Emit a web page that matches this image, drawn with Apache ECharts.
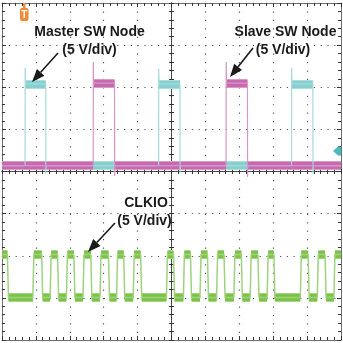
<!DOCTYPE html>
<html>
<head>
<meta charset="utf-8">
<script src="https://cdn.jsdelivr.net/npm/echarts@6/dist/echarts.min.js"></script>
<style>
  html, body { margin: 0; padding: 0; background: #ffffff; }
  #scope { width: 343px; height: 343px; }
</style>
</head>
<body>
<div id="scope"></div>
<script>
// Horizontal unit: screen divisions (10 across). Vertical unit: divisions (±4), 5 V/div.
const masterRise   = [0.68, 4.62, 8.54];
const masterFall   = [1.29, 5.25, 9.17];
const masterPeak   = [2.46, 2.44, 2.46];
const masterDip    = [-0.05, -0.04, -0.05];
const masterLevels = [0.14, 2.08];

const slaveRise   = [2.69, 6.61];
const slaveFall   = [3.32, 7.24];
const slavePeak   = [2.60, 2.60];
const slaveDip    = [-0.10, -0.13];
const slaveLevels = [0.14, 2.10];

const clkRise = [0.91, 1.42, 1.90, 2.39, 2.89, 3.38, 3.87,
                 4.85, 5.35, 5.84, 6.33, 6.84, 7.32, 7.82,
                 8.80, 9.30, 9.79];
const clkFall = [0.16, 1.17, 1.64, 2.12, 2.62, 3.14, 3.59, 4.09,
                 5.06, 5.56, 6.06, 6.55, 7.06, 7.55, 8.02,
                 9.03, 9.53];
const clkLevels = [-2.99, -1.97];

const xDivs = [0, 10];
const yDivs = [-4, 4];

// Turn edge times into a thin transition path plus flat level segments.
function buildTrace(rises, falls, levels, peaks, dips, edge) {
  const events = rises.map((t, i) => ({ t, up: true, over: peaks ? peaks[i] : null }))
    .concat(falls.map((t, i) => ({ t, up: false, over: dips ? dips[i] : null })))
    .sort((a, b) => a.t - b.t);
  let state = events.length && !events[0].up ? 1 : 0;
  const path = [[xDivs[0], levels[state]]];
  const segs = [];
  let from = xDivs[0];
  events.forEach(e => {
    segs.push([[from, levels[state]], [e.t, levels[state]]]);
    path.push([e.t, levels[state]]);
    if (e.over != null) path.push([e.t + edge * 0.3, e.over]);
    state = e.up ? 1 : 0;
    from = e.t + edge;
    path.push([from, levels[state]]);
  });
  segs.push([[from, levels[state]], [xDivs[1], levels[state]]]);
  path.push([xDivs[1], levels[state]]);
  return { path, segs };
}

const master = buildTrace(masterRise, masterFall, masterLevels, masterPeak, masterDip, 0.012);
const slave  = buildTrace(slaveRise, slaveFall, slaveLevels, slavePeak, slaveDip, 0.012);
const clk    = buildTrace(clkRise, clkFall, clkLevels, null, null, 0.03);

function band(segs, color, width) {
  return {
    type: 'lines', coordinateSystem: 'cartesian2d', xAxisIndex: 0, yAxisIndex: 0,
    silent: true, polyline: false,
    lineStyle: { color, width, opacity: 1, cap: 'butt', curveness: 0 },
    data: segs.map(c => ({ coords: c }))
  };
}
function edges(path, color, width) {
  return {
    type: 'line', xAxisIndex: 0, yAxisIndex: 0, data: path,
    symbol: 'none', showSymbol: false, silent: true,
    lineStyle: { color, width }
  };
}

const tickColor = '#333';
function frameAxis(gridIndex, position, range, dash) {
  return {
    type: 'value', gridIndex, position, min: range[0], max: range[1], interval: 1,
    axisLine: { show: true, onZero: false, lineStyle: { color: '#6f6f6f', width: 1 } },
    axisTick: { show: true, inside: true, length: 4, lineStyle: { color: tickColor } },
    minorTick: { show: true, splitNumber: 5, length: 3, lineStyle: { color: tickColor } },
    axisLabel: { show: false },
    splitLine: dash ? { show: true, lineStyle: { color: '#555', width: 1.2, type: dash } } : { show: false }
  };
}
function crossAxis(gridIndex, position, range) {
  return {
    type: 'value', gridIndex, position, min: range[0], max: range[1], interval: 1,
    axisLine: { show: true, onZero: true, lineStyle: { color: '#3a3a3a', width: 1, type: [1, 1] } },
    axisTick: { show: true, inside: true, length: 2.5, lineStyle: { color: tickColor } },
    minorTick: { show: true, splitNumber: 5, length: 2.5, lineStyle: { color: tickColor } },
    axisLabel: { show: false },
    splitLine: { show: false }
  };
}

const gridBox = { left: 2, right: 2, top: 3, bottom: 3 };

// Annotation arrow: shaft plus filled head, in pixels.
function arrow(x0, y0, x1, y1) {
  const dx = x1 - x0, dy = y1 - y0, len = Math.hypot(dx, dy);
  const ux = dx / len, uy = dy / len, head = 13, half = 5;
  const bx = x1 - ux * head, by = y1 - uy * head;
  return [
    { type: 'line', z: 100, shape: { x1: x0, y1: y0, x2: bx, y2: by },
      style: { stroke: '#1a1a1a', lineWidth: 1.6 } },
    { type: 'polygon', z: 100,
      shape: { points: [[x1, y1], [bx - uy * half, by + ux * half], [bx + uy * half, by - ux * half]] },
      style: { fill: '#1a1a1a' } }
  ];
}
function label(text, x, y) {
  return { type: 'text', z: 100, style: {
    text, x, y, align: 'center', verticalAlign: 'middle',
    font: 'bold 14px "Liberation Sans", Arial, sans-serif', fill: '#1a1a1a' } };
}

const chart = echarts.init(document.getElementById('scope'), null, { renderer: 'canvas' });
chart.setOption({
  animation: false,
  backgroundColor: '#ffffff',
  grid: [gridBox, gridBox, gridBox].map(g => Object.assign({ containLabel: false }, g)),
  xAxis: [
    frameAxis(0, 'bottom', xDivs, [1.2, 7.23]),
    frameAxis(0, 'top', xDivs, null),
    crossAxis(1, 'bottom', [-5, 5]),
    crossAxis(2, 'top', [-5, 5])
  ],
  yAxis: [
    frameAxis(0, 'left', yDivs, [1.2, 5.58]),
    frameAxis(0, 'right', yDivs, null),
    crossAxis(1, 'left', yDivs),
    crossAxis(2, 'right', yDivs)
  ],
  series: [
    band(master.segs, '#addfdf', 9),
    edges(master.path, '#a4dada', 1.2),
    band(master.segs, '#88d0d0', 7),
    band(slave.segs, '#d69acb', 9),
    edges(slave.path, '#d696c7', 1.2),
    band(slave.segs, '#c868b0', 7),
    band(clk.segs, '#a3d681', 9),
    edges(clk.path, '#9fd27c', 1.5),
    band(clk.segs, '#7cc247', 7)
  ],
  graphic: [
    label('Master SW Node', 89.5, 32.5),
    label('(5 V/div)', 89.5, 50.5),
    label('Slave SW Node', 285.5, 32.5),
    label('(5 V/div)', 283, 50.5),
    label('CLKIO', 146, 203.5),
    label('(5 V/div)', 144.5, 221),
    ...arrow(58, 53, 32, 82),
    ...arrow(253, 48, 230, 77),
    ...arrow(115, 223, 88, 252),
    // trigger position flag
    { type: 'rect', z: 100, shape: { x: 23, y: 3, width: 2.5, height: 6 }, style: { fill: '#ef8a35' } },
    { type: 'rect', z: 100, shape: { x: 20, y: 8, width: 8.5, height: 13, r: 2 }, style: { fill: '#ef8a35' } },
    { type: 'text', z: 101, style: { text: 'T', x: 24.3, y: 15, align: 'center', verticalAlign: 'middle',
      font: 'bold 10px "Liberation Sans", Arial, sans-serif', fill: '#ffffff' } },
    // trigger level marker
    { type: 'polygon', z: 100, shape: { points: [[333, 151], [338, 146.5], [341, 146.5], [341, 155.5], [338, 155.5]] },
      style: { fill: '#4cb8b8' } }
  ]
});
</script>
</body>
</html>
